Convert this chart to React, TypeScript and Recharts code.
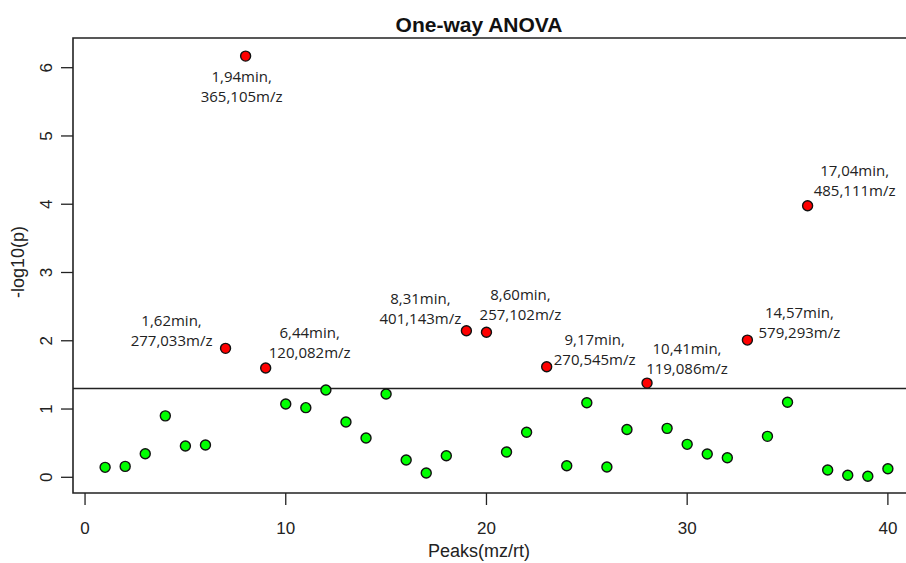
import React from 'react';
import { ScatterChart, Scatter, XAxis, YAxis, ReferenceLine, ReferenceArea } from 'recharts';

// peak index and -log10(p)
const peaks = [
	1, 2, 3, 4, 5, 6, 7, 8, 9, 10, 11, 12, 13, 14, 15, 16, 17, 18, 19, 20,
	21, 22, 23, 24, 25, 26, 27, 28, 29, 30, 31, 32, 33, 34, 35, 36, 37, 38, 39, 40,
];
const negLogP = [
	0.146, 0.16, 0.346, 0.9, 0.458, 0.473, 1.889, 6.17, 1.6, 1.073,
	1.02, 1.278, 0.81, 0.575, 1.22, 0.253, 0.063, 0.316, 2.147, 2.125,
	0.37, 0.659, 1.62, 0.17, 1.092, 0.15, 0.7, 1.38, 0.717, 0.483,
	0.341, 0.287, 2.01, 0.6, 1.1, 3.978, 0.107, 0.029, 0.015, 0.126,
];

const xTicks = [0, 10, 20, 30, 40];
const yTicks = [0, 1, 2, 3, 4, 5, 6];

// significant peaks with their annotation
const annotatedPeaks = [7, 8, 9, 19, 20, 23, 28, 33, 36];
const retentionTimes = ['1,62min,', '1,94min,', '6,44min,', '8,31min,', '8,60min,', '9,17min,', '10,41min,', '14,57min,', '17,04min,'];
const mzValues = ['277,033m/z', '365,105m/z', '120,082m/z', '401,143m/z', '257,102m/z', '270,545m/z', '119,086m/z', '579,293m/z', '485,111m/z'];

const THRESHOLD = -Math.log10(0.05);

const X_DOMAIN: [number, number] = [-0.6, 41.6];
const Y_DOMAIN: [number, number] = [-0.23, 6.435];

// where each annotation sits relative to its dot (dx, dy of first baseline)
const LABEL_OFFSETS: Record<number, [number, number]> = {
	7: [-54, -22],
	8: [-4, 26],
	9: [44, -30],
	19: [-46, -27],
	20: [34, -32],
	23: [48, -22],
	28: [40, -29],
	33: [52, -22],
	36: [47, -30],
};

const data = peaks.map((p, i) => ({ peak: p, value: negLogP[i] }));

const AXIS_FONT = '"Liberation Sans", Arial, sans-serif';
const LABEL_FONT = '"Open Sans", sans-serif';

const PeakDot = (props: any) => {
	const { cx, cy, payload } = props;
	const sig = payload.value > THRESHOLD;
	const idx = annotatedPeaks.indexOf(payload.peak);
	const off = LABEL_OFFSETS[payload.peak];
	return (
		<g>
			<circle cx={cx} cy={cy} r={5} fill={sig ? '#FF0000' : '#00FF00'} stroke="#111" strokeWidth={1.4} />
			{idx >= 0 && off && (
				<text
					x={cx + off[0]}
					y={cy + off[1]}
					textAnchor="middle"
					fontFamily={LABEL_FONT}
					fontSize={15}
					fill="#222"
				>
					<tspan x={cx + off[0]}>{retentionTimes[idx]}</tspan>
					<tspan x={cx + off[0]} dy={20}>{mzValues[idx]}</tspan>
				</text>
			)}
		</g>
	);
};

const XTick = (props: any) => {
	const { x, y, payload } = props;
	return (
		<text x={x} y={y} dy={27} textAnchor="middle" fontFamily={AXIS_FONT} fontSize={17} fill="#222">
			{payload.value}
		</text>
	);
};

const YTick = (props: any) => {
	const { x, y, payload } = props;
	const bx = x - 7;
	return (
		<text
			x={bx}
			y={y}
			textAnchor="middle"
			transform={`rotate(-90, ${bx}, ${y})`}
			fontFamily={AXIS_FONT}
			fontSize={17}
			fill="#222"
		>
			{payload.value}
		</text>
	);
};

export default function App() {
	return (
		<div
			style={{
				position: 'absolute',
				left: 0,
				top: 0,
				width: 906,
				height: 563,
				overflow: 'hidden',
				background: '#fff',
			}}
		>
			<ScatterChart width={930} height={563} margin={{ top: 38, right: 10, bottom: 0, left: 0 }}>
				<XAxis
					type="number"
					dataKey="peak"
					domain={X_DOMAIN}
					ticks={xTicks}
					allowDataOverflow
					interval={0}
					height={70}
					tickSize={12}
					tickLine={{ stroke: '#222', strokeWidth: 1.3 }}
					axisLine={false}
					tick={<XTick />}
				/>
				<YAxis
					type="number"
					dataKey="value"
					domain={Y_DOMAIN}
					ticks={yTicks}
					allowDataOverflow
					interval={0}
					width={73}
					tickSize={12}
					tickLine={{ stroke: '#222', strokeWidth: 1.3 }}
					axisLine={false}
					tick={<YTick />}
				/>
				<ReferenceArea
					x1={X_DOMAIN[0]}
					x2={X_DOMAIN[1]}
					y1={Y_DOMAIN[0]}
					y2={Y_DOMAIN[1]}
					fill="none"
					stroke="#222"
					strokeWidth={1.6}
					ifOverflow="visible"
				/>
				<ReferenceLine y={THRESHOLD} stroke="#222" strokeWidth={1.3} />
				<Scatter data={data} shape={PeakDot} isAnimationActive={false} />
			</ScatterChart>
			<svg
				width={906}
				height={563}
				style={{ position: 'absolute', left: 0, top: 0, pointerEvents: 'none' }}
			>
				<text x={479} y={32} textAnchor="middle" fontFamily={AXIS_FONT} fontWeight="bold" fontSize={21} fill="#111">
					One-way ANOVA
				</text>
				<text x={479} y={557} textAnchor="middle" fontFamily={AXIS_FONT} fontSize={18} fill="#222">
					Peaks(mz/rt)
				</text>
				<text
					x={24}
					y={262}
					textAnchor="middle"
					transform="rotate(-90, 24, 262)"
					fontFamily={AXIS_FONT}
					fontSize={18}
					fill="#222"
				>
					-log10(p)
				</text>
			</svg>
		</div>
	);
}
